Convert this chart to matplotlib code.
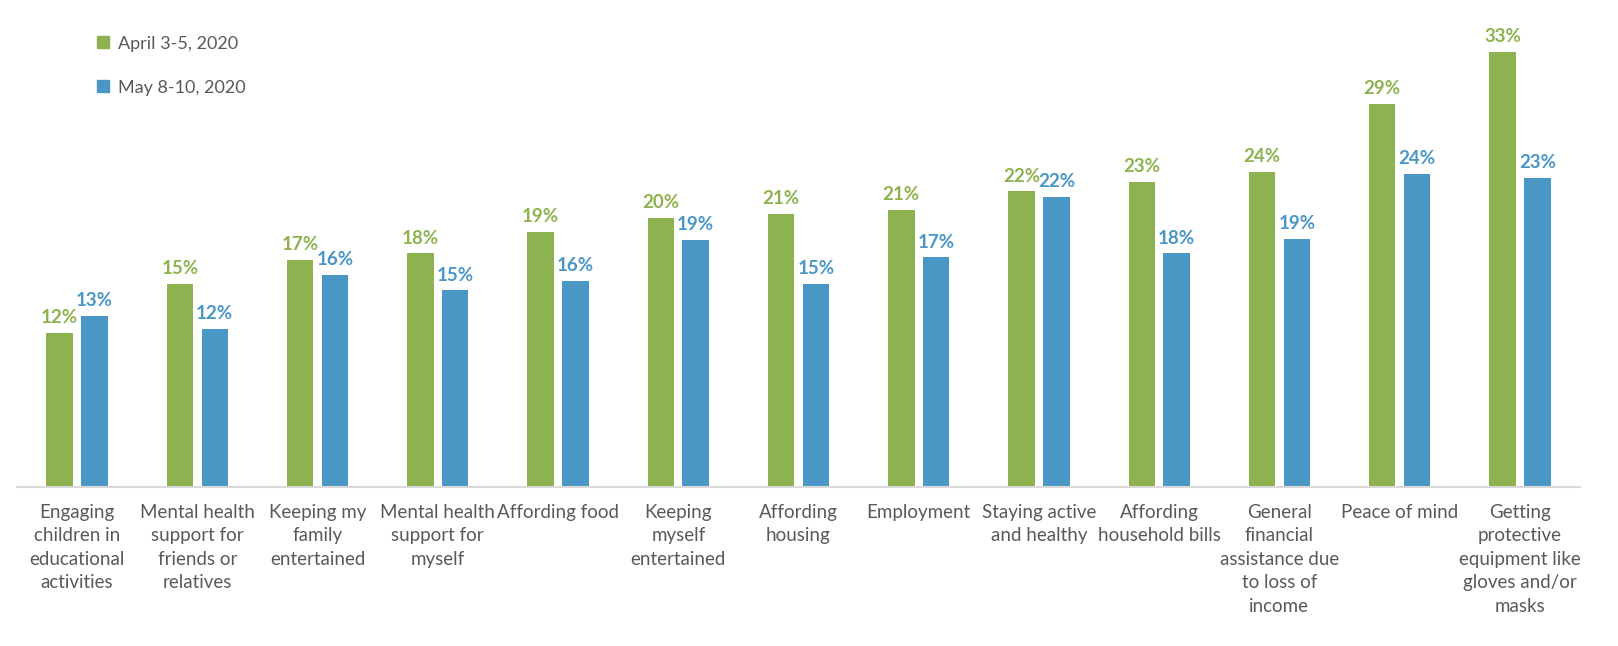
#!/usr/bin/env python3
"""Grouped bars: share of people needing help, April vs May 2020."""

import matplotlib

matplotlib.use("Agg")

import matplotlib.pyplot as plt
import numpy as np
from matplotlib.lines import Line2D

CATEGORIES = [
    "Engaging\nchildren in\neducational\nactivities",
    "Mental health\nsupport for\nfriends or\nrelatives",
    "Keeping my\nfamily\nentertained",
    "Mental health\nsupport for\nmyself",
    "Affording food",
    "Keeping\nmyself\nentertained",
    "Affording\nhousing",
    "Employment",
    "Staying active\nand healthy",
    "Affording\nhousehold bills",
    "General\nfinancial\nassistance due\nto loss of\nincome",
    "Peace of mind",
    "Getting\nprotective\nequipment like\ngloves and/or\nmasks",
]
APRIL = [11.7, 15.4, 17.2, 17.7, 19.3, 20.4, 20.7, 21.0, 22.4, 23.1, 23.9, 29.0, 33.0]
MAY = [13.0, 12.0, 16.1, 14.9, 15.6, 18.7, 15.4, 17.4, 22.0, 17.7, 18.8, 23.7, 23.4]
SERIES_NAMES = ["April 3-5, 2020", "May 8-10, 2020"]

GREEN = "#8db24f"
BLUE = "#4a96c5"
TEXT = "#595959"
FONT = "Lato"


def main() -> None:
    fig = plt.figure(figsize=(16.18, 6.46), dpi=100)
    ax = fig.add_axes([0.0105, 0.246, 0.966, 0.715])

    x = np.arange(len(CATEGORIES))
    width = 0.22
    offset = 0.145
    bars_a = ax.bar(x - offset, APRIL, width, color=GREEN)
    bars_m = ax.bar(x + offset, MAY, width, color=BLUE)

    for bars, vals, col in ((bars_a, APRIL, GREEN), (bars_m, MAY, BLUE)):
        for b, v in zip(bars, vals):
            ax.annotate(
                f"{round(v):d}%",
                (b.get_x() + b.get_width() / 2, v),
                xytext=(0, 5),
                textcoords="offset points",
                ha="center",
                va="bottom",
                fontsize=13.5,
                fontweight="bold",
                color=col,
                family=FONT,
            )

    ax.set_xlim(-0.5, len(CATEGORIES) - 0.5)
    ax.set_ylim(0, 35)
    ax.set_yticks([])
    ax.set_xticks(x)
    ax.set_xticklabels(CATEGORIES, fontsize=13.5, color=TEXT, family=FONT, linespacing=1.47)
    ax.tick_params(axis="x", length=0, pad=12)
    for side in ("top", "right", "left"):
        ax.spines[side].set_visible(False)
    ax.spines["bottom"].set_color("#d9d9d9")
    ax.spines["bottom"].set_linewidth(1.5)

    handles = [
        Line2D([], [], marker="s", linestyle="none", markersize=8, color=c)
        for c in (GREEN, BLUE)
    ]
    fig.legend(
        handles,
        SERIES_NAMES,
        loc="upper left",
        bbox_to_anchor=(0.047, 0.97),
        frameon=False,
        handletextpad=0.2,
        handlelength=1.2,
        labelspacing=1.55,
        prop={"family": FONT, "size": 13},
        labelcolor=TEXT,
    )

    fig.savefig("out.png")
    plt.close(fig)


if __name__ == "__main__":
    main()
